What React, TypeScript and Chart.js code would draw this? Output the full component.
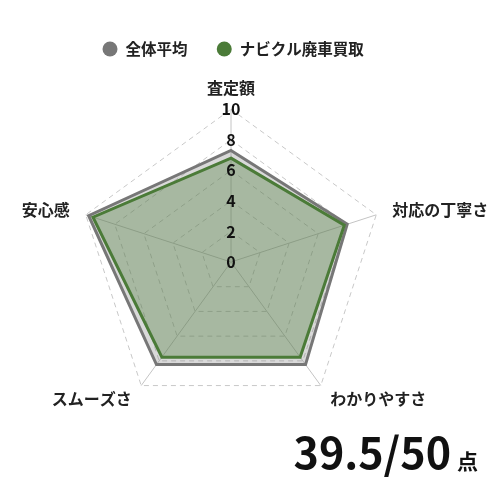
import React, { useEffect, useRef } from "react";
import { Chart, registerables } from "chart.js";

Chart.register(...registerables);

const categories = ["査定額", "対応の丁寧さ", "わかりやすさ", "スムーズさ", "安心感"];
const seriesNames = ["全体平均", "ナビクル廃車買取"];
const averageValues = [7.3, 8.0, 8.3, 8.3, 9.8];
const navikuruValues = [6.8, 7.8, 7.7, 7.7, 9.5];
const scaleMin = 0;
const scaleMax = 10;
const tickStep = 2;
const scoreText = "39.5/50";
const scoreUnit = "点";

const FONT = '"Noto Sans CJK JP", "Noto Sans", sans-serif';

// point label spacing per direction: top, sides, bottom
const labelPadding = (i: number) => (i === 0 ? 14.5 : i === 1 || i === 4 ? 16.8 : 16);
const labelLineHeight = (i: number) => (i === 0 ? 0.875 : 0);

const tickLabelPlugin = {
  id: "tickLabelsAll",
  afterDatasetsDraw(chart: any) {
    const scale = chart.scales.r;
    const ctx = chart.ctx;
    ctx.save();
    ctx.font = `bold 16px ${FONT}`;
    ctx.fillStyle = "#111111";
    ctx.textAlign = "center";
    ctx.textBaseline = "middle";
    scale.ticks.forEach((t: any) => {
      const p = scale.getPointPositionForValue(0, t.value);
      ctx.fillText(String(t.value), p.x, p.y);
    });
    ctx.restore();
  },
};

export default function App() {
  const ref = useRef<HTMLCanvasElement | null>(null);

  useEffect(() => {
    if (!ref.current) return;
    Chart.defaults.font.family = FONT;
    const chart = new Chart(ref.current, {
      type: "radar",
      data: {
        labels: categories,
        datasets: [
          {
            label: seriesNames[1],
            data: navikuruValues,
            borderColor: "#4b7b38",
            backgroundColor: "rgba(74,124,58,0.35)",
            borderWidth: 3,
            pointRadius: 0,
            pointHoverRadius: 0,
            fill: true,
          },
          {
            label: seriesNames[0],
            data: averageValues,
            borderColor: "#777777",
            backgroundColor: "rgba(128,128,128,0.3)",
            borderWidth: 3,
            pointRadius: 0,
            pointHoverRadius: 0,
            fill: true,
          },
        ],
      },
      options: {
        responsive: false,
        animation: false,
        layout: { padding: { top: 12.25, left: 0, right: 0, bottom: 1.75 } },
        plugins: {
          tooltip: { enabled: false },
          legend: {
            position: "top",
            reverse: true,
            labels: {
              usePointStyle: true,
              pointStyle: "circle",
              boxHeight: 10.6,
              padding: 29,
              color: "#222222",
              font: { size: 15.5, weight: "bold", family: FONT },
              generateLabels: (c: any) =>
                Chart.defaults.plugins.legend.labels
                  .generateLabels(c)
                  .map((item: any) => ({ ...item, fillStyle: item.strokeStyle, lineWidth: 0 })),
            },
          },
        },
        scales: {
          r: {
            min: scaleMin,
            max: scaleMax,
            ticks: { stepSize: tickStep, display: false },
            angleLines: { color: "#c4c4c4", lineWidth: 1 },
            grid: { color: "#c8c8c8", lineWidth: 1 },
            border: { dash: [5, 4] },
            pointLabels: {
              color: "#222222",
              padding: (ctx: any) => labelPadding(ctx.index),
              font: (ctx: any) => ({
                size: 16,
                weight: "bold",
                family: FONT,
                lineHeight: labelLineHeight(ctx.index),
              }),
            },
          },
        },
      } as any,
      plugins: [tickLabelPlugin],
    });
    return () => chart.destroy();
  }, []);

  return (
    <div
      style={{
        position: "fixed",
        left: 0,
        top: 0,
        width: 500,
        height: 500,
        background: "#ffffff",
        overflow: "hidden",
      }}
    >
      <canvas
        ref={ref}
        width={562}
        height={431}
        style={{ display: "block", position: "absolute", left: -48, top: 0 }}
      />
      <div
        style={{
          position: "absolute",
          right: 22,
          top: 428,
          lineHeight: "44px",
          fontFamily: FONT,
          fontWeight: 700,
          color: "#111111",
          whiteSpace: "nowrap",
        }}
      >
        <span style={{ fontSize: 43 }}>{scoreText}</span>
        <span style={{ fontSize: 21, marginLeft: 6 }}>{scoreUnit}</span>
      </div>
    </div>
  );
}
